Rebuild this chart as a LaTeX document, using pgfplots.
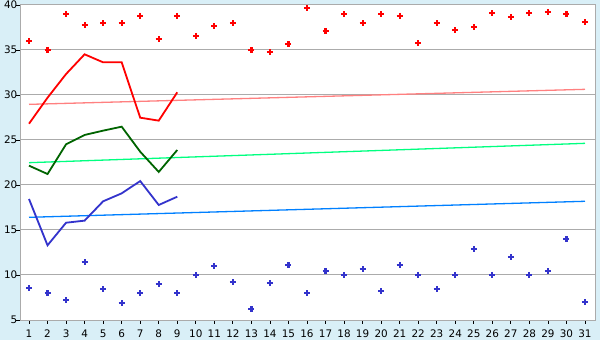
\documentclass[border=0pt]{standalone}
\usepackage{pgfplots}
\pgfplotsset{compat=1.18}
\usepackage{fontspec}
\setmainfont{DejaVu Sans}
\definecolor{bg}{HTML}{D9EFF7}
\definecolor{gridc}{HTML}{ABABAB}
\definecolor{bl}{HTML}{3333CC}
\definecolor{dg}{HTML}{006400}
\definecolor{tpink}{HTML}{FF8080}
\definecolor{tgreen}{HTML}{00FF80}
\definecolor{tblue}{HTML}{0080FF}
\begin{document}
\begin{tikzpicture}
\fill[bg] (0,0) rectangle (600bp,340bp);
\begin{axis}[
  at={(20.5bp,20bp)}, anchor=south west,
  scale only axis, width=574.5bp, height=315bp,
  xmin=0.541, xmax=31.54, ymin=5, ymax=40,
  xtick={1,...,31}, ytick={5,10,...,40},
  ymajorgrids, grid style={color=gridc, line width=1bp},
  axis line style={gridc, line width=1bp},
  tick style={black, line width=0.8bp},
  tick align=outside, major tick length=4bp,
  xtick pos=left, ytick pos=left,
  axis background/.style={fill=white},
  ticklabel style={font=\fontsize{10.4bp}{12bp}\selectfont, inner sep=0pt},
  yticklabel style={xshift=1bp},
  xticklabel style={yshift=-6bp},
  /pgf/number format/assume math mode=true,
]
% trend lines
\addplot[tpink, line width=1.3bp] coordinates {(1,28.96) (31,30.63)};
\addplot[tgreen, line width=1.3bp] coordinates {(1,22.48) (31,24.63)};
\addplot[tblue, line width=1.3bp] coordinates {(1,16.41) (31,18.19)};
% lines
\addplot[red, line width=1.8bp] coordinates {(1,26.81) (2,29.7) (3,32.33) (4,34.52) (5,33.63) (6,33.63) (7,27.48) (8,27.15) (9,30.30)};
\addplot[dg, line width=1.8bp] coordinates {(1,22.15) (2,21.22) (3,24.52) (4,25.56) (5,26.04) (6,26.48) (7,23.7) (8,21.45) (9,23.89)};
\addplot[bl, line width=1.8bp] coordinates {(1,18.44) (2,13.3) (3,15.81) (4,16.04) (5,18.19) (6,19.07) (7,20.44) (8,17.78) (9,18.70)};
% scatter
\addplot[only marks, red, mark=+, mark size=3bp, mark options={line width=2.2bp}] coordinates {
(1,35.96) (2,35.0) (3,38.96) (4,37.75) (5,37.96) (6,37.96) (7,38.78) (8,36.22) (9,38.78) (10,36.56)
(11,37.63) (12,37.96) (13,34.98) (14,34.74) (15,35.63) (16,39.63) (17,37.07) (18,38.96) (19,37.96) (20,38.96)
(21,38.78) (22,35.74) (23,37.96) (24,37.19) (25,37.52) (26,39.07) (27,38.63) (28,39.07) (29,39.19) (30,38.96) (31,38.07)};
\addplot[only marks, bl, mark=+, mark size=3bp, mark options={line width=2.2bp}] coordinates {
(1,8.52) (2,7.96) (3,7.19) (4,11.41) (5,8.41) (6,6.85) (7,7.96) (8,8.96) (9,7.96) (10,9.96)
(11,10.96) (12,9.19) (13,6.19) (14,9.08) (15,11.08) (16,7.96) (17,10.41) (18,9.96) (19,10.63) (20,8.19)
(21,11.08) (22,10.0) (23,8.41) (24,10.0) (25,12.85) (26,10.0) (27,11.96) (28,10.0) (29,10.41) (30,13.96) (31,6.96)};
\end{axis}
\end{tikzpicture}
\end{document}
